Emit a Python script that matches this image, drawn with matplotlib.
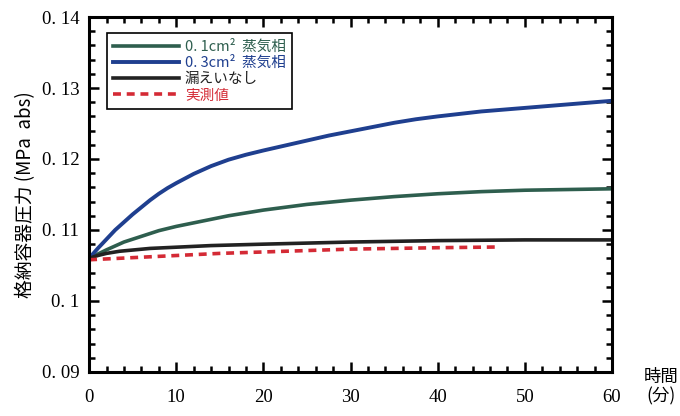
import matplotlib
matplotlib.use("Agg")
import matplotlib.pyplot as plt
from matplotlib.ticker import MultipleLocator, FuncFormatter

plt.rcParams['font.family'] = ['Noto Sans CJK JP', 'DejaVu Sans']

# time (min) and containment pressure (MPa abs)
t_01 = [0, 2, 4, 6, 8, 10, 12, 14, 16, 18, 20, 25, 30, 35, 40, 45, 50, 55, 60]
leak_01 = [0.1060, 0.1072, 0.1083, 0.1091, 0.1099, 0.1105, 0.1110, 0.1115, 0.1120,
           0.1124, 0.1128, 0.1136, 0.1142, 0.1147, 0.1151, 0.1154, 0.1156, 0.1157, 0.1158]
t_03 = [0, 1, 2, 3, 4, 5, 6, 7, 8, 9, 10, 12, 14, 16, 18, 20, 22.5, 25, 27.5, 30,
        32.5, 35, 37.5, 40, 45, 50, 55, 60]
leak_03 = [0.1060, 0.1074, 0.1087, 0.1100, 0.1111, 0.1122, 0.1132, 0.1142, 0.1151,
           0.1159, 0.1166, 0.1179, 0.1190, 0.1199, 0.1206, 0.1212, 0.1219, 0.1226,
           0.1233, 0.1239, 0.1245, 0.1251, 0.1256, 0.1260, 0.1267, 0.1272, 0.1277, 0.1282]
t_no = [0, 1, 2, 3.5, 7, 14, 20, 30, 40, 50, 60]
no_leak = [0.1060, 0.1064, 0.1067, 0.1070, 0.1074, 0.1078, 0.1080, 0.1083, 0.1085,
           0.1086, 0.1086]
t_meas = [0, 5, 10, 15, 20, 25, 30, 35, 40, 47]
measured = [0.1058, 0.1061, 0.1064, 0.1067, 0.1069, 0.1071, 0.1073, 0.1074, 0.1075, 0.1076]

labels = ["0. 1cm²  蒸気相", "0. 3cm²  蒸気相", "漏えいなし", "実測値"]
colors = ["#2e5e4e", "#1f3f8f", "#222222", "#d42a35"]

fig = plt.figure(figsize=(6.8, 4.16), dpi=100)
ax = fig.add_axes([0.131, 0.106, 0.769, 0.853])

ax.plot(t_01, leak_01, color=colors[0], lw=2.6, label=labels[0])
ax.plot(t_03, leak_03, color=colors[1], lw=2.8, label=labels[1])
ax.plot(t_no, no_leak, color=colors[2], lw=2.6, label=labels[2])
ax.plot(t_meas, measured, color=colors[3], lw=2.6, ls=(0, (2.2, 1.6)), label=labels[3])

ax.set_xlim(0, 60)
ax.set_ylim(0.09, 0.14)
ax.xaxis.set_major_locator(MultipleLocator(10))
ax.xaxis.set_minor_locator(MultipleLocator(2))
ax.yaxis.set_major_locator(MultipleLocator(0.01))
ax.yaxis.set_minor_locator(MultipleLocator(0.002))

def yfmt(v, pos):
    s = f"{v:.2f}".rstrip("0")
    return s.replace(".", ". ")

ax.yaxis.set_major_formatter(FuncFormatter(yfmt))
ax.tick_params(which="both", direction="in", top=True, right=True, width=1.8)
ax.tick_params(which="major", length=7, labelsize=13.5)
ax.tick_params(axis="x", which="major", pad=12)
ax.tick_params(axis="y", which="major", pad=7)
ax.tick_params(which="minor", length=4)
for lab in ax.get_xticklabels() + ax.get_yticklabels():
    lab.set_family("Liberation Serif")
for sp in ax.spines.values():
    sp.set_linewidth(2.2)

ax.set_ylabel("格納容器圧力 (MPa  abs)", fontsize=13.5, labelpad=4)
fig.text(0.972, 0.07, "時間\n(分)", ha="center", va="center", fontsize=12.5, linespacing=1.05)

leg = ax.legend(loc="upper left", bbox_to_anchor=(0.02, 0.975), fancybox=False,
                edgecolor="black", framealpha=1, fontsize=10.5, handlelength=4.5,
                borderpad=0.45, labelspacing=0.15, handletextpad=0.4)
leg.get_frame().set_linewidth(1.2)
for txt, c in zip(leg.get_texts(), colors):
    txt.set_color(c)

fig.savefig("out.png", dpi=100)
